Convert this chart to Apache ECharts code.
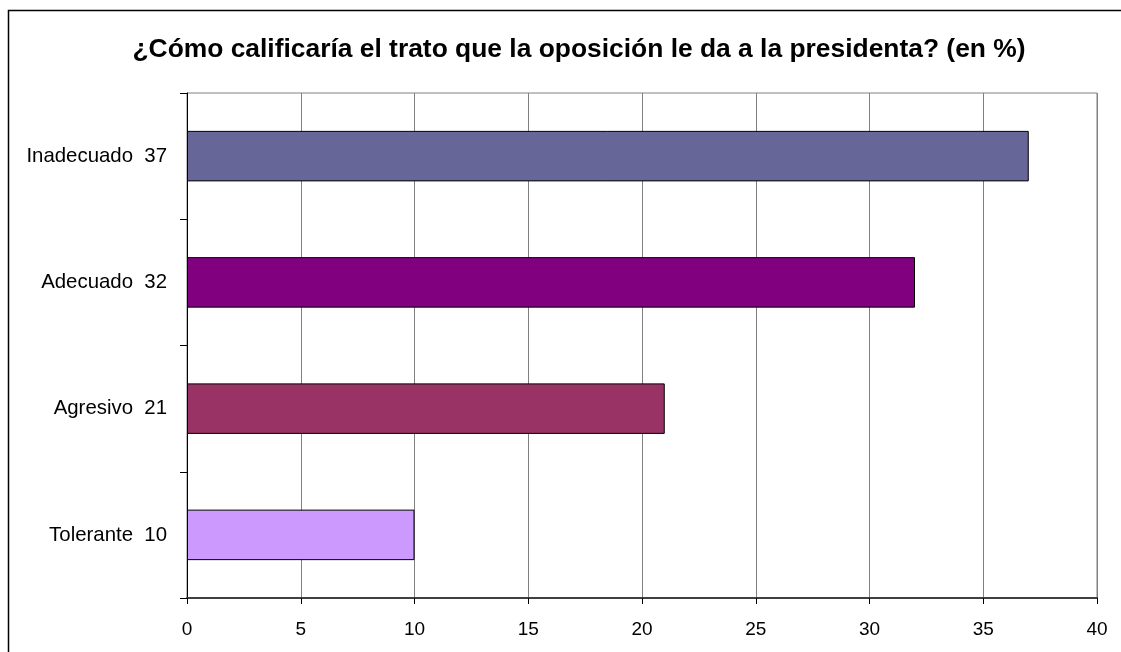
<!DOCTYPE html>
<html><head><meta charset="utf-8">
<script src="https://cdn.jsdelivr.net/npm/echarts@6/dist/echarts.min.js"></script>
<style>html,body{margin:0;padding:0;background:#fff}#c{width:1121px;height:652px}</style>
</head><body><div id="c"></div>
<script>
const categories = ['Tolerante  10', 'Agresivo  21', 'Adecuado  32', 'Inadecuado  37'];
const values = [10, 21, 32, 37];
const colors = ['#CC99FF', '#993366', '#800080', '#666699'];
const xTicks = [0, 5, 10, 15, 20, 25, 30, 35, 40];
const titleText = '¿Cómo calificaría el trato que la oposición le da a la presidenta? (en %)';

const chart = echarts.init(document.getElementById('c'), null, {renderer: 'canvas'});
chart.setOption({
  animation: false,
  backgroundColor: '#fff',
  title: {
    text: titleText, left: 574, top: 32, textAlign: 'center',
    textStyle: {fontFamily: 'Liberation Sans, Arial', fontWeight: 'bold', fontSize: 26.4, color: '#000'}
  },
  graphic: [{
    type: 'rect', shape: {x: 8.5, y: 10.5, width: 1200, height: 700},
    style: {fill: 'none', stroke: '#000', lineWidth: 1.5}, silent: true, z: -1
  }],
  grid: {left: 187, right: 24, top: 93, bottom: 54, show: true, borderColor: '#808080', borderWidth: 1},
  xAxis: {
    type: 'value', min: xTicks[0], max: xTicks[xTicks.length - 1], interval: 5,
    axisLine: {show: true, lineStyle: {color: '#404040', width: 2}},
    axisTick: {show: true, length: 6, lineStyle: {color: '#000'}},
    splitLine: {show: true, lineStyle: {color: '#808080', width: 1}},
    axisLabel: {fontFamily: 'Liberation Sans, Arial', fontSize: 19, color: '#000', margin: 22}
  },
  yAxis: {
    type: 'category', data: categories,
    axisLine: {show: true, lineStyle: {color: '#000', width: 1}},
    axisTick: {show: true, length: 7, lineStyle: {color: '#000'}},
    axisLabel: {fontFamily: 'Liberation Sans, Arial', fontSize: 20.4, color: '#000', margin: 20}
  },
  series: [{
    type: 'bar', barWidth: '40%',
    data: values.map((v, i) => ({value: v, itemStyle: {color: colors[i]}})),
    itemStyle: {borderColor: '#000', borderWidth: 1}
  }]
});
</script></body></html>
